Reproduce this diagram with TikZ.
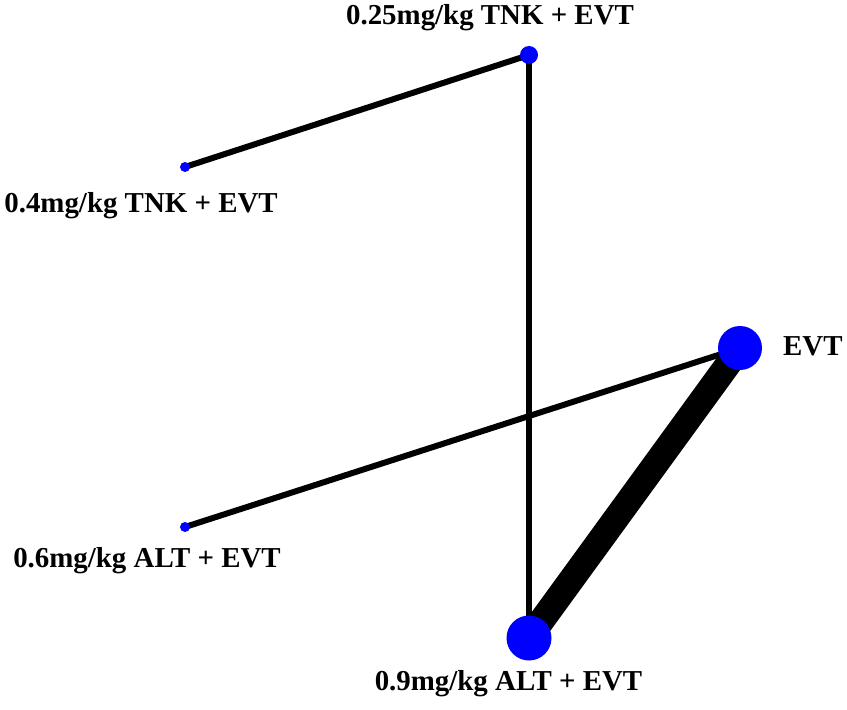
\documentclass[tikz,border=0pt]{standalone}
\usepackage{fontspec}
\setmainfont{Liberation Serif}
\usetikzlibrary{backgrounds}
\begin{document}
\begin{tikzpicture}[x=1bp,y=-1bp,
  dot/.style={circle, fill=blue, draw=none, inner sep=0pt},
  lbl/.style={font=\fontsize{29}{34}\selectfont\bfseries, inner sep=0pt, anchor=base},
  thinedge/.style={line width=6bp, black},
  thickedge/.style={line width=26bp, black}]
\useasboundingbox (0,0) rectangle (847,710);
\node[dot, minimum size=18bp] (a) at (529,55) {};
\node[dot, minimum size=10bp] (b) at (185,167) {};
\node[dot, minimum size=44bp] (c) at (740,348) {};
\node[dot, minimum size=10bp] (d) at (185,527) {};
\node[dot, minimum size=45bp] (e) at (529,638) {};
\node[lbl] (la) at (490,25) {0.25mg/kg TNK + EVT};
\node[lbl] (lb) at (141,212) {0.4mg/kg TNK + EVT};
\node[lbl, anchor=base west] (lc) at (783,355) {EVT};
\node[lbl] (ld) at (147,567) {0.6mg/kg ALT + EVT};
\node[lbl] (le) at (508.5,690) {0.9mg/kg ALT + EVT};
\begin{scope}[on background layer]
\fill[white] (0,0) rectangle (847,710);
\draw[thinedge] (a.center) -- (b.center);
\draw[thinedge] (a.center) -- (e.center);
\draw[thinedge] (c.center) -- (d.center);
\draw[thickedge] (c.center) -- (e.center);
\end{scope}
\end{tikzpicture}
\end{document}
